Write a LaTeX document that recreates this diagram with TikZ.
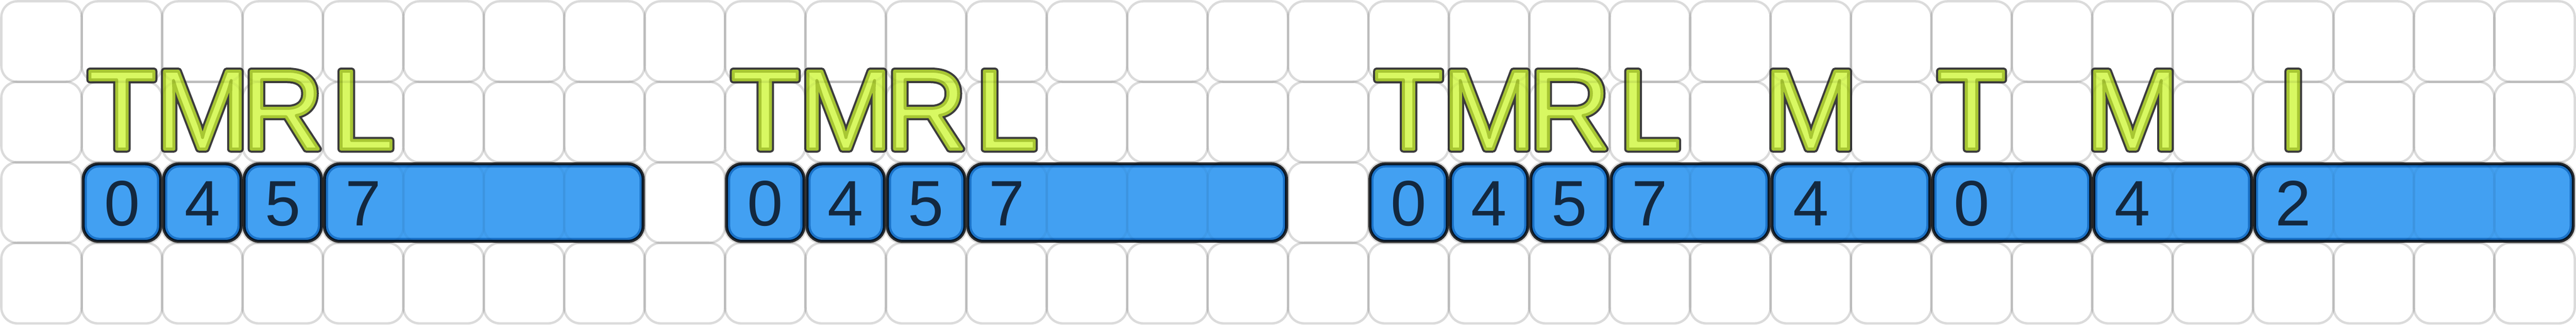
\documentclass[tikz,border=0pt]{standalone}
\usepackage{fontspec}
\setmainfont{Liberation Sans}
\definecolor{boxblue}{HTML}{42A0F2}
\definecolor{ringblue}{HTML}{1A72C8}
\definecolor{valnavy}{HTML}{13283F}
\definecolor{opfill}{HTML}{D8F862}
\definecolor{opline}{HTML}{3C3C3C}
\newcommand{\oplabel}[1]{\rlap{\textcolor{opline}{\special{pdf:literal direct 0.235 0.235 0.235 RG 2.5 w 1 j 2 Tr}#1\special{pdf:literal direct 0 Tr}}}%
\textcolor{opfill}{\special{pdf:literal direct 0.66 0.78 0.2 RG 1.05 w 1 j 2 Tr}#1\special{pdf:literal direct 0 Tr}}}
\newcommand{\tapebox}[2]{%
\draw[boxouter] (#1+0.0187,1.0187) rectangle (#2-0.0187,1.9813);
\fill[boxinner] (#1+0.064,1.064) rectangle (#2-0.064,1.936);}
\begin{document}
\begin{tikzpicture}[
boxouter/.style={fill=ringblue, draw=black, draw opacity=0.8, line width=1.06pt, rounded corners=0.19cm},
boxinner/.style={fill=boxblue, rounded corners=0.15cm},
val/.style={anchor=base, inner sep=0, text=valnavy, font=\fontsize{22.7}{24}\selectfont},
op/.style={anchor=base, inner sep=0, font=\fontsize{40}{40}\selectfont},
gridcell/.style={draw=black, draw opacity=0.11, line width=0.83pt, rounded corners=0.2cm},
gridover/.style={draw=black, draw opacity=0.035, line width=0.83pt, rounded corners=0.2cm}]
\useasboundingbox (-0.016,-0.016) rectangle (32.016,4.016);
\foreach \i in {0,...,31}
  \foreach \j in {0,...,3}
    \draw[gridcell] (\i,\j) rectangle ++(1,1);
\tapebox{1}{2}
\tapebox{2}{3}
\tapebox{3}{4}
\tapebox{4}{8}
\tapebox{9}{10}
\tapebox{10}{11}
\tapebox{11}{12}
\tapebox{12}{16}
\tapebox{17}{18}
\tapebox{18}{19}
\tapebox{19}{20}
\tapebox{20}{22}
\tapebox{22}{24}
\tapebox{24}{26}
\tapebox{26}{28}
\tapebox{28}{32}
\node[val] (val0) at (1.5,1.211) {0};
\node[val] (val1) at (2.5,1.211) {4};
\node[val] (val2) at (3.5,1.211) {5};
\node[val] (val3) at (4.5,1.211) {7};
\node[val] (val4) at (9.5,1.211) {0};
\node[val] (val5) at (10.5,1.211) {4};
\node[val] (val6) at (11.5,1.211) {5};
\node[val] (val7) at (12.5,1.211) {7};
\node[val] (val8) at (17.5,1.211) {0};
\node[val] (val9) at (18.5,1.211) {4};
\node[val] (val10) at (19.5,1.211) {5};
\node[val] (val11) at (20.5,1.211) {7};
\node[val] (val12) at (22.5,1.211) {4};
\node[val] (val13) at (24.5,1.211) {0};
\node[val] (val14) at (26.5,1.211) {4};
\node[val] (val15) at (28.5,1.211) {2};
\node[op] (op0) at (1.5,2.165) {\oplabel{T}};
\node[op] (op1) at (2.5,2.165) {\oplabel{M}};
\node[op] (op2) at (3.5,2.165) {\oplabel{R}};
\node[op] (op3) at (4.5,2.165) {\oplabel{L}};
\node[op] (op4) at (9.5,2.165) {\oplabel{T}};
\node[op] (op5) at (10.5,2.165) {\oplabel{M}};
\node[op] (op6) at (11.5,2.165) {\oplabel{R}};
\node[op] (op7) at (12.5,2.165) {\oplabel{L}};
\node[op] (op8) at (17.5,2.165) {\oplabel{T}};
\node[op] (op9) at (18.5,2.165) {\oplabel{M}};
\node[op] (op10) at (19.5,2.165) {\oplabel{R}};
\node[op] (op11) at (20.5,2.165) {\oplabel{L}};
\node[op] (op12) at (22.5,2.165) {\oplabel{M}};
\node[op] (op13) at (24.5,2.165) {\oplabel{T}};
\node[op] (op14) at (26.5,2.165) {\oplabel{M}};
\node[op] (op15) at (28.5,2.165) {\oplabel{I}};
\foreach \i in {0,...,31}
  \foreach \j in {0,...,3}
    \draw[gridover] (\i,\j) rectangle ++(1,1);
\end{tikzpicture}
\end{document}
